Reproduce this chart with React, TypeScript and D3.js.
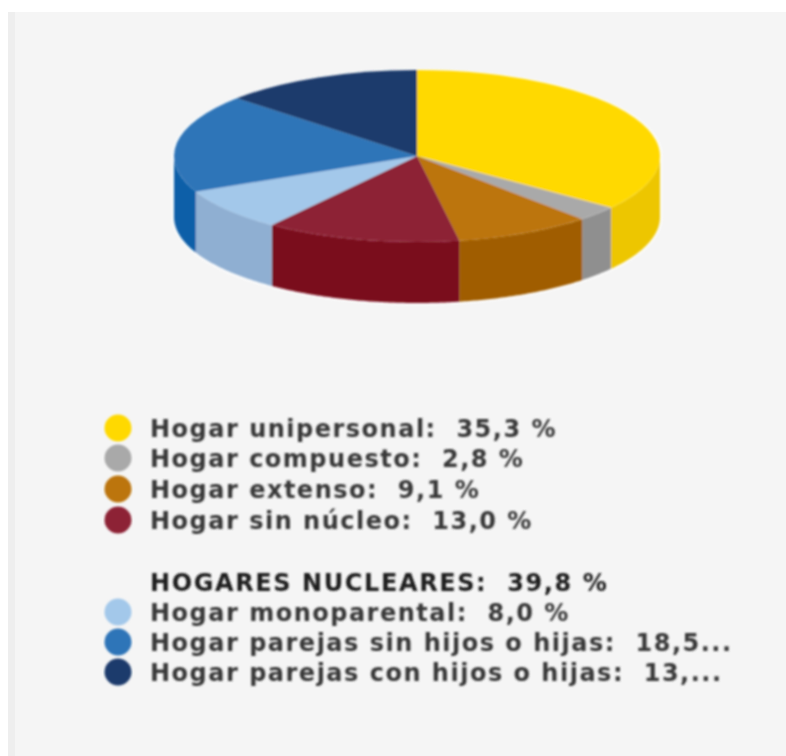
import * as d3 from "d3";

// slices, clockwise from 12 o'clock
const sliceNames = [
  "Hogar unipersonal",
  "Hogar compuesto",
  "Hogar extenso",
  "Hogar sin núcleo",
  "Hogar monoparental",
  "Hogar parejas sin hijos o hijas",
  "Hogar parejas con hijos o hijas",
];
const sliceValues = [35.3, 2.8, 9.1, 13.0, 8.0, 18.5, 13.3];
const topColors = ["#FFD900", "#A9A9A9", "#BC750F", "#8D2235", "#A3C8EA", "#2E75B8", "#1D3A6C"];
const wallColors = ["#EDC600", "#8F8F8F", "#A05D00", "#7A0A1C", "#8FAFD2", "#0F5FA8", "#1D3A6C"];

// the legend text, cut off as in the picture
const firstLegend = ["35,3 %", "2,8 %", "9,1 %", "13,0 %"];
const secondLegend = ["8,0 %", "18,5...", "13,..."];
const groupTitle = "HOGARES NUCLEARES:  39,8 %";

const cx = 417;
const cy = 156;
const rx = 243;
const ry = 86;
const depth = 61;

const FONT = "'DejaVu Sans', sans-serif";

function wallPath(a0: number, a1: number) {
  const start = Math.max(a0, Math.PI / 2);
  const end = Math.min(a1, (3 * Math.PI) / 2);
  if (end <= start) return null;
  const angles = [...d3.range(start, end, 0.01), end];
  const px = (a: number) => cx + rx * Math.sin(a);
  const py = (a: number) => cy - ry * Math.cos(a);
  const shape = d3
    .area<number>()
    .x((a) => px(a))
    .y0((a) => py(a))
    .y1((a) => py(a) + depth);
  return shape(angles);
}

export default function App() {
  const pie = d3
    .pie<number>()
    .sort(null)
    .value((d) => d);
  const slices = pie(sliceValues);
  const arc = d3.arc<d3.PieArcDatum<number>>().innerRadius(0).outerRadius(rx);

  const legendY = d3.scaleOrdinal<number, number>().domain(d3.range(7)).range([428, 458, 489, 520, 612, 642, 672]);

  const legendRows = sliceNames.map((name, i) => {
    const value = i < 4 ? firstLegend[i] : secondLegend[i - 4];
    return { text: `${name}:  ${value}`, color: topColors[i], y: legendY(i) };
  });

  return (
    <svg
      width={786}
      height={756}
      style={{ position: "absolute", left: 0, top: 0, display: "block" }}
    >
      <defs>
        <filter id="soft" x="-5%" y="-5%" width="110%" height="110%">
          <feGaussianBlur stdDeviation="1.3" />
        </filter>
        <filter id="softText" x="-5%" y="-20%" width="110%" height="140%">
          <feGaussianBlur stdDeviation="0.9" />
        </filter>
      </defs>

      <rect x={0} y={0} width={786} height={756} fill="#ffffff" />
      <rect x={8} y={12} width={778} height={744} fill="#f5f5f5" />
      <rect x={8} y={12} width={7} height={744} fill="#eeeeee" />

      {/* pale halo round the pie */}
      <g filter="url(#soft)" fill="#ffffff" stroke="#ffffff" strokeWidth={4} opacity={0.8}>
        {slices.map((s, i) => {
          const d = wallPath(s.startAngle, s.endAngle);
          return d ? <path key={i} d={d} /> : null;
        })}
        <g transform={`translate(${cx},${cy}) scale(1,${ry / rx})`}>
          {slices.map((s, i) => (
            <path key={i} d={arc(s) ?? undefined} />
          ))}
        </g>
      </g>

      <g filter="url(#soft)">
        {slices.map((s, i) => {
          const d = wallPath(s.startAngle, s.endAngle);
          return d ? <path key={i} d={d} fill={wallColors[i]} /> : null;
        })}
        <g transform={`translate(${cx},${cy}) scale(1,${ry / rx})`}>
          {slices.map((s, i) => (
            <path key={i} d={arc(s) ?? undefined} fill={topColors[i]} />
          ))}
        </g>
      </g>

      <g filter="url(#soft)">
        {legendRows.map((r) => (
          <circle key={r.text} cx={118} cy={r.y} r={13.5} fill={r.color} />
        ))}
      </g>

      <g
        filter="url(#softText)"
        fontFamily={FONT}
        fontSize={24}
        fontWeight={700}
        letterSpacing={1.5}
        fill="#383838"
      >
        {legendRows.map((r) => (
          <text key={r.text} x={150} y={r.y + 9} xmlSpace="preserve" style={{ whiteSpace: "pre" }}>
            {r.text}
          </text>
        ))}
        <text x={150} y={591} fill="#1c1c1c" letterSpacing={1.6} xmlSpace="preserve" style={{ whiteSpace: "pre" }}>
          {groupTitle}
        </text>
      </g>
    </svg>
  );
}
